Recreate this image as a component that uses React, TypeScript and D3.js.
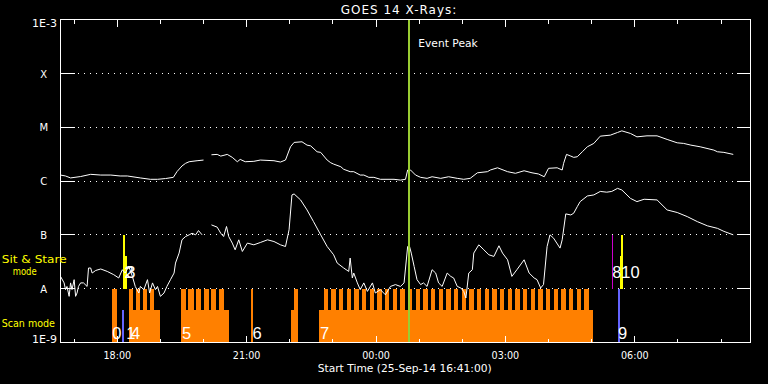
import React from 'react';
import * as d3 from 'd3';

// ---- Time frame ----
const START = Date.UTC(2014, 8, 25, 16, 41); // 25-Sep-14 16:41:00
const END = Date.UTC(2014, 8, 26, 8, 41);
const EVENT_PEAK_MIN = 485; // minutes after start

// ---- Y levels (GOES classes) ----
const levelValues = [1e-9, 1e-8, 1e-7, 1e-6, 1e-5, 1e-4, 1e-3];
const levelLabels = ['1E-9', 'A', 'B', 'C', 'M', 'X', '1E-3'];

// ---- GOES long channel (1-8 A), [minutes after start, flux in 1e-6 W/m^2] ----
const LONG_UNIT = 1e-6;
const longChannel: [number, number | null][] = [
  [0, 1.29], [7, 1.24], [14, 1.14], [28, 1.21], [42, 1.33], [56, 1.29], [70, 1.29], [83, 1.24],
  [93, 1.24], [111, 1.14], [125, 1.075], [135, 1.075], [146, 1.11], [157, 1.17], [162, 1.49],
  [169, 1.9], [174, 2.13], [179, 2.28], [190, 2.38], [199, 2.45], [204, null], [210, 3.07],
  [218, 3.12], [223, 2.9], [232, 3.12], [239, 2.75], [246, 2.28], [250, 2.52], [257, 2.28],
  [269, 2.32], [278, 2.45], [297, 2.38], [306, 2.25], [313, 2.45], [320, 4.32], [325, 5.21],
  [336, 5.35], [343, 4.64], [348, 4.5], [357, 3.49], [362, 3.4], [371, 2.45], [376, 2.18],
  [380, 2.06], [390, 1.84], [394, 1.65], [403, 1.49], [408, 1.49], [417, 1.29], [422, 1.29],
  [429, 1.17], [436, 1.17], [445, 1.075], [464, 1.075], [473, 1.04], [480, 1.075], [483, 1.6],
  [487, 1.6], [494, 1.29], [501, 1.17], [510, 1.12], [517, 1.2], [529, 1.12], [540, 1.2],
  [552, 1.12], [561, 1.075], [570, 1.12], [580, 1.42], [594, 1.49], [598, 1.6], [608, 1.76],
  [622, 1.49], [633, 1.39], [645, 1.55], [656, 1.42], [665, 1.35], [673, 1.2], [679, 1.72],
  [691, 1.76], [698, 1.6], [700, 2.13], [704, 3.12], [710, 2.9], [714, 2.75], [719, 2.82],
  [726, 3.49], [733, 4.32], [742, 4.99], [751, 6.81], [765, 7.11], [775, 7.97], [781, 8.54],
  [793, 7.64], [802, 6.61], [816, 6.9], [830, 6.9], [844, 5.92], [858, 5.12], [867, 4.99],
  [877, 4.64], [890, 4.32], [909, 3.75], [914, 3.49], [923, 3.4], [936, 3.12],
];

// ---- GOES short channel (0.5-4 A), [minutes after start, flux in 1e-8 W/m^2] ----
const SHORT_UNIT = 1e-8;
const shortChannel: [number, number | null][] = [
  [0, 1.69], [5, 1.28], [7, 0.96], [9, 1.1], [12, 0.72], [14, 1.28], [16, 0.96], [19, 1.47],
  [21, 0.72], [23, 0.83], [25, 1.1], [28, 1.28], [32, 1.28], [37, 1.1], [39, 2.42], [42, 2.42],
  [44, 1.95], [49, 2.18], [56, 2.32], [65, 2.09], [74, 1.82], [81, 1.58], [86, 2.25], [90, 1.95],
  [95, 2.59], [100, 1.69], [104, 1.1], [109, 0.83], [111, 1.1], [116, 0.96], [121, 1.47],
  [124, 0.83], [128, 1.28], [132, 0.96], [135, 1.1], [139, 0.72], [144, 0.83], [148, 1.1],
  [153, 1.47], [158, 1.95], [160, 2.99], [165, 4.58], [169, 8.08], [174, 9.3], [179, 10.0],
  [183, 10.7], [188, 10.0], [192, 12.0], [197, 10.0], [204, null], [210, 15.3], [218, 13.9],
  [223, 10.7], [227, 9.3], [231, 14.3], [234, 9.3], [239, 7.02], [243, 5.27], [248, 8.08],
  [253, 4.91], [260, 7.02], [269, 6.53], [278, 7.2], [288, 8.08], [297, 7.51], [306, 6.53],
  [313, 6.07], [318, 12.4], [322, 55.1], [325, 57.5], [334, 44.5], [343, 29.0], [352, 17.6],
  [362, 10.0], [371, 6.07], [380, 4.26], [385, 2.99], [394, 2.42], [401, 2.09], [403, 3.7],
  [406, 1.58], [408, 1.95], [413, 1.28], [417, 0.96], [422, 1.28], [427, 0.89], [434, 1.28],
  [438, 0.83], [445, 0.96], [452, 0.77], [459, 1.1], [466, 1.19], [473, 1.1], [478, 1.28],
  [483, 6.07], [485, 6.53], [488, 4.58], [492, 2.59], [496, 1.47], [501, 1.19], [505, 1.28],
  [510, 1.1], [517, 2.25], [522, 1.95], [526, 1.28], [531, 1.1], [538, 1.95], [543, 1.69],
  [547, 1.58], [552, 1.1], [557, 1.03], [561, 0.89], [564, 0.67], [568, 1.95], [573, 2.25],
  [575, 4.58], [582, 6.53], [589, 5.27], [596, 4.26], [603, 3.97], [610, 6.26], [615, 4.58],
  [622, 3.44], [628, 1.69], [635, 2.25], [645, 3.44], [652, 1.95], [659, 1.58], [663, 1.47],
  [668, 1.03], [672, 1.19], [677, 6.07], [681, 10.0], [686, 8.68], [695, 5.67], [698, 8.08],
  [703, 24.5], [710, 23.4], [714, 25.2], [719, 33.4], [723, 41.4], [733, 52.7], [742, 55.1],
  [751, 64], [760, 62], [767, 64], [775, 73], [781, 68.1], [793, 47.5], [802, 41.4], [812, 45.8],
  [830, 44.5], [844, 29.0], [858, 26], [872, 21.8], [886, 17.6], [900, 14.7], [914, 13.2],
  [923, 11.6], [936, 10.0],
];

// ---- Observation timeline (minutes after start) ----
const SCAN_LOW = 4e-9;   // top of the scan-mode base blocks
const SCAN_HIGH = 1e-8;  // top of full scan rasters
const SS_LOW = 4e-8;
const SS_HIGH = 1e-7;
const scanBlocks: [number, number][] = [[95, 139], [168, 234], [321, 331], [360, 741]];
const scanRasters: [number, number][] = [
  [71, 78], [95, 101], [104.5, 111], [114.5, 121], [124, 130],
  [168, 175], [178, 186], [189, 196], [199, 206], [210, 217], [220, 227],
  [265, 268], [325, 331],
  [366, 372], [377, 383], [387, 393], [398, 404], [409, 415], [419, 425], [430, 436], [441, 447],
  [451, 457], [462, 468], [473, 479], [483, 489], [494, 500], [505, 511], [515, 521], [526, 532],
  [537, 543], [547, 553], [558, 564], [569, 575], [579, 585], [590, 596], [601, 607], [611, 617],
  [622, 628], [633, 639], [643, 649], [654, 660], [665, 671], [675, 681], [686, 692], [697, 703],
  [707, 713], [718, 724], [729, 735],
];
// [start, end, top, colour]
const markers: [number, number, number, string][] = [
  [85, 89, SCAN_LOW, '#6464ff'],
  [775, 779, SCAN_HIGH, '#6464ff'],
];
const sitStare: [number, number, number, string][] = [
  [87, 90, SS_HIGH, '#ffff00'],
  [90, 92, SS_LOW, '#ffff00'],
  [767, 768.5, SS_HIGH, '#cc00cc'],
  [778, 780.5, SS_LOW, '#ffff00'],
  [780.5, 782, SS_HIGH, '#ffff00'],
];
// [text, minute, row, packed width]  row 0 = scan row, 1 = sit & stare row
const obsLabels: [string, number, number, number][] = [
  ['0', 72, 0, 0], ['14', 91.5, 0, 14], ['23', 89, 1, 11],
  ['5', 169, 0, 0], ['6', 267, 0, 0], ['7', 361, 0, 0], ['810', 767.5, 1, 0], ['9', 775.5, 0, 0],
];

const FONT = 'DejaVu Sans, sans-serif';

export default function App() {
  const L = 60.5, R = 750.5, T = 19.5, B = 342.5;
  const x = d3.scaleUtc().domain([new Date(START), new Date(END)]).range([L, R]);
  const y = d3.scaleLog().domain([1e-9, 1e-3]).range([B, T]);
  const tm = (m: number) => x(new Date(START + m * 60000));
  const px = (v: number) => Math.round(v);

  const mkLine = (unit: number) =>
    d3.line<[number, number | null]>()
      .defined((d) => d[1] != null)
      .x((d) => tm(d[0]))
      .y((d) => y((d[1] as number) * unit));

  const majors = d3.utcHour.every(3)!.range(new Date(START), new Date(END));
  const allHours = d3.utcHour.every(1)!.range(new Date(START), new Date(END));
  const fmt = d3.utcFormat('%H:%M');

  const bar = (s: number, e: number, top: number, bottom: number, color: string, key: string) => {
    const x0 = px(tm(s));
    const x1 = Math.max(px(tm(e)), x0 + 1);
    const y0 = px(y(top));
    const y1 = px(y(bottom));
    return <rect key={key} x={x0} y={y0} width={x1 - x0} height={y1 - y0} fill={color} shapeRendering="crispEdges" />;
  };

  const innerLevels = levelValues.slice(1, -1);

  return (
    <svg width={768} height={384} style={{ position: 'absolute', left: 0, top: 0, display: 'block' }}>
      <rect x={0} y={0} width={768} height={384} fill="#000" />

      {/* grid */}
      {innerLevels.map((v, i) => {
        const yy = Math.floor(y(v)) + 0.5;
        return (
          <g key={'g' + i} shapeRendering="crispEdges">
            <line x1={78} x2={737} y1={yy} y2={yy} stroke="#fff" strokeDasharray="1 5" />
            <line x1={L} x2={L + 14} y1={yy} y2={yy} stroke="#fff" />
            <line x1={R - 14} x2={R} y1={yy} y2={yy} stroke="#fff" />
          </g>
        );
      })}

      {/* timeline bars */}
      {scanBlocks.map((b, i) => bar(b[0], b[1], SCAN_LOW, 1e-9, '#ff8000', 'sb' + i))}
      {scanRasters.map((b, i) => bar(b[0], b[1], SCAN_HIGH, 1e-9, '#ff8000', 'sr' + i))}
      {markers.map((b, i) => bar(b[0], b[1], b[2], 1e-9, b[3], 'mk' + i))}
      {sitStare.map((b, i) => bar(b[0], b[1], b[2], 1e-8, b[3], 'ss' + i))}

      {/* light curves */}
      <path d={mkLine(LONG_UNIT)(longChannel) || ''} fill="none" stroke="#fff" strokeWidth={1} />
      <path d={mkLine(SHORT_UNIT)(shortChannel) || ''} fill="none" stroke="#fff" strokeWidth={1} />

      {/* observation labels */}
      {obsLabels.map((l, i) => (
        <text key={'ol' + i} x={tm(l[1])} y={l[2] === 0 ? B - 3.5 : y(1e-8) - 10.5}
          fill="#fff" fontFamily="Liberation Sans, sans-serif" fontSize={16.5}
          {...(l[3] ? { textLength: l[3], lengthAdjust: 'spacing' } : {})}>{l[0]}</text>
      ))}

      {/* event peak */}
      <line x1={px(tm(EVENT_PEAK_MIN))} x2={px(tm(EVENT_PEAK_MIN))} y1={T} y2={B} stroke="#9acd32" strokeWidth={2} shapeRendering="crispEdges" />
      <text x={418.3} y={46.5} fill="#fff" fontFamily={FONT} fontSize={10} textLength={59.4} lengthAdjust="spacingAndGlyphs">Event Peak</text>

      {/* frame */}
      <rect x={L} y={T} width={R - L} height={B - T} fill="none" stroke="#fff" strokeWidth={1} shapeRendering="crispEdges" />

      {/* time ticks */}
      {allHours.map((h, i) => {
        const isMajor = majors.some((m) => +m === +h);
        const len = isMajor ? 7 : 4;
        const xx = Math.floor(x(h)) + 0.5;
        return (
          <g key={'t' + i} shapeRendering="crispEdges">
            <line x1={xx} x2={xx} y1={T} y2={T + len} stroke="#fff" />
            <line x1={xx} x2={xx} y1={B} y2={B - len} stroke="#fff" />
          </g>
        );
      })}
      {majors.map((h, i) => (
        <text key={'tl' + i} x={x(h)} y={358.5} fill="#fff" fontFamily={FONT} fontSize={9.6} textAnchor="middle">{fmt(h)}</text>
      ))}

      {/* y labels */}
      {levelValues.map((v, i) => {
        const lab = levelLabels[i];
        if (i === 0) return <text key={'yl' + i} x={57} y={343.3} fill="#fff" fontFamily={FONT} fontSize={10} textAnchor="end" textLength={25} lengthAdjust="spacingAndGlyphs">{lab}</text>;
        if (i === levelValues.length - 1) return <text key={'yl' + i} x={57} y={26.7} fill="#fff" fontFamily={FONT} fontSize={10} textAnchor="end" textLength={25} lengthAdjust="spacingAndGlyphs">{lab}</text>;
        return <text key={'yl' + i} x={43.7} y={y(v) + 4.2} fill="#fff" fontFamily={FONT} fontSize={10} textAnchor="middle">{lab}</text>;
      })}

      {/* mode labels */}
      <text x={1.7} y={263} fill="#ffff00" fontFamily={FONT} fontSize={11} textLength={65} lengthAdjust="spacingAndGlyphs">Sit &amp; Stare</text>
      <text x={12.7} y={275} fill="#ffff00" fontFamily={FONT} fontSize={11} textLength={24} lengthAdjust="spacingAndGlyphs">mode</text>
      <text x={1.7} y={326.5} fill="#ffff00" fontFamily={FONT} fontSize={11} textLength={53.3} lengthAdjust="spacingAndGlyphs">Scan mode</text>

      {/* title & x title */}
      <text x={399} y={14} fill="#fff" fontFamily={FONT} fontSize={12} textAnchor="middle" letterSpacing={1}>GOES 14 X-Rays:</text>
      <text x={317.7} y={372} fill="#fff" fontFamily={FONT} fontSize={10} textLength={174} lengthAdjust="spacingAndGlyphs">Start Time (25-Sep-14 16:41:00)</text>
    </svg>
  );
}
